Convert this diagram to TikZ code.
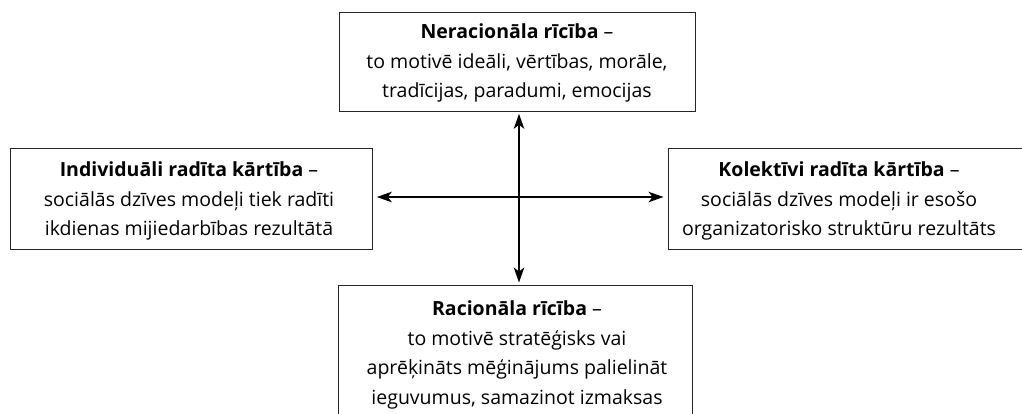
\documentclass[tikz,border=0pt]{standalone}
\usepackage{fontspec}
\setmainfont{Open Sans}
\usetikzlibrary{arrows.meta,calc}
\tikzset{
  box/.style={draw=black!85, line width=1.3pt, inner sep=0pt, anchor=north west},
  txt/.style={align=center, inner sep=0pt, font=\fontsize{19.5}{29.7}\selectfont},
  arr/.style={line width=1.4pt, {Stealth[length=15pt,width=10.5pt,inset=4pt]}-{Stealth[length=15pt,width=10.5pt,inset=4pt]}}
}
\begin{document}
\begin{tikzpicture}[x=1pt,y=-1pt]
\useasboundingbox (0,0) rectangle (1022,413);
\clip (0,0) rectangle (1022,413);
% boxes
\node[box, minimum width=356pt, minimum height=99pt] (tb) at (339,12) {};
\node[box, minimum width=362pt, minimum height=101pt] (lb) at (10,148) {};
\node[box, minimum width=380pt, minimum height=101pt] (rb) at (668,148) {};
\node[box, minimum width=354pt, minimum height=140pt] (bb) at (338,285) {};
% texts
\node[txt] (tt) at (517,63) {\textbf{Neracionāla rīcība} –\\to motivē ideāli, vērtības, morāle,\\tradīcijas, paradumi, emocijas};
\node[txt] (lt) at (189,201) {\textbf{Individuāli radīta kārtība} –\\sociālās dzīves modeļi tiek radīti\\ikdienas mijiedarbības rezultātā};
\node[txt] (rt) at (839,201) {\textbf{Kolektīvi radīta kārtība} –\\sociālās dzīves modeļi ir esošo\\organizatorisko struktūru rezultāts};
\node[txt] (bt) at (517,355) {\textbf{Racionāla rīcība} –\\to motivē stratēģisks vai\\aprēķināts mēģinājums palielināt\\ieguvumus, samazinot izmaksas};
% arrows
\coordinate (c) at (519,197);
\draw[arr, shorten <=1.5pt, shorten >=2.5pt] (c |- tb.south) -- (c |- bb.north);
\draw[arr, shorten <=3.5pt, shorten >=4.5pt] (c -| lb.east) -- (c -| rb.west);
\end{tikzpicture}
\end{document}
